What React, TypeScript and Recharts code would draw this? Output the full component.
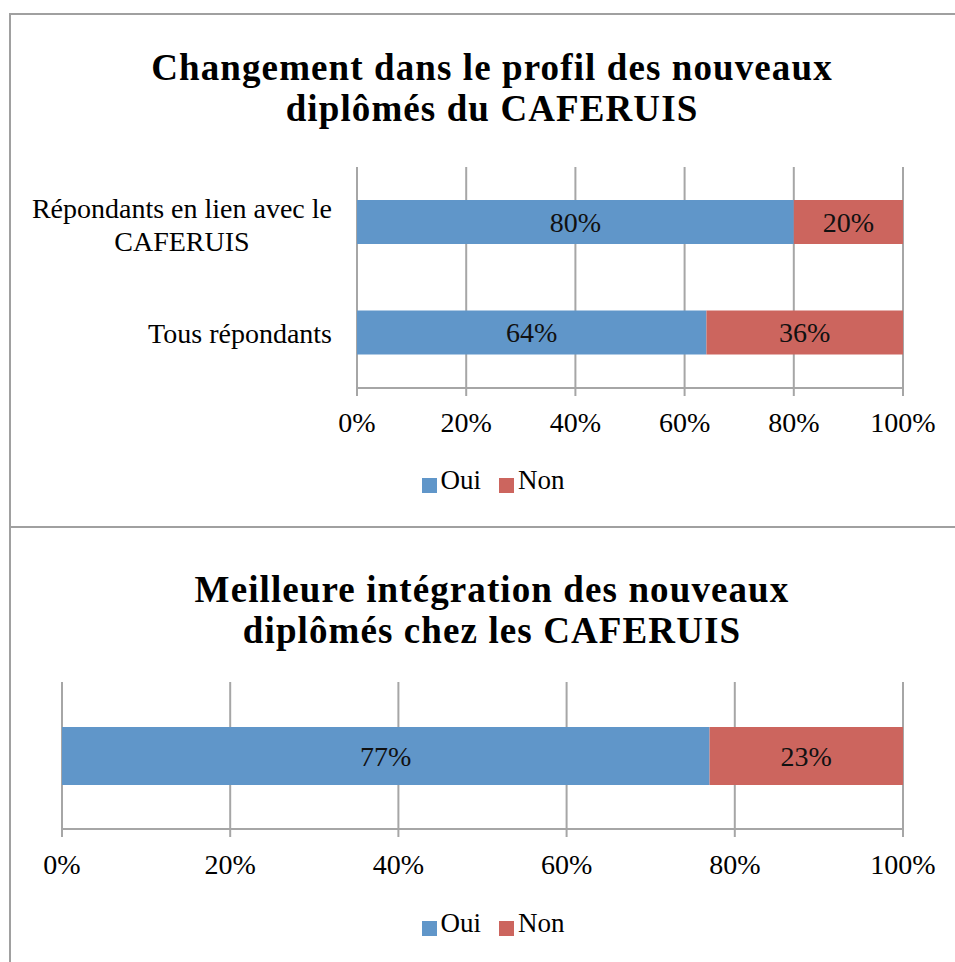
import React from 'react';
import { BarChart, Bar, XAxis, YAxis, CartesianGrid, Legend, LabelList } from 'recharts';

// ---- data ----
const topTitle = ['Changement dans le profil des nouveaux', 'diplômés du CAFERUIS'];
const bottomTitle = ['Meilleure intégration des nouveaux', 'diplômés chez les CAFERUIS'];
const topCategories = ['Répondants en lien avec le\nCAFERUIS', 'Tous répondants'];
const topOui = [80, 64];
const topNon = [20, 36];
const bottomCategories = ['Tous'];
const bottomOui = [77];
const bottomNon = [23];
const seriesNames = ['Oui', 'Non'];
const xTicks = [0, 20, 40, 60, 80, 100];
const frameTicks = [0, 1, 2];

const topData = topCategories.map((c, i) => ({ cat: c, oui: topOui[i], non: topNon[i] }));
const bottomData = bottomCategories.map((c, i) => ({ cat: c, oui: bottomOui[i], non: bottomNon[i] }));

// ---- style ----
const FONT = '"Liberation Serif", "Times New Roman", serif';
const BLUE = '#6096C9';
const RED = '#CC655E';
const GRID = '#a6a6a6';
const CHART_W = 984;

let canvas: HTMLCanvasElement | null = null;
const measure = (text: string, font: string) => {
  if (!canvas) canvas = document.createElement('canvas');
  const ctx = canvas.getContext('2d');
  if (!ctx) return text.length * 12;
  ctx.font = font;
  return ctx.measureText(text).width;
};

const CatTick = (props: any) => {
  const { x, y, payload } = props;
  const lines = String(payload.value).split('\n');
  const widths = lines.map((l) => measure(l, `28px ${FONT}`));
  const maxW = Math.max(...widths);
  const cx = x - maxW / 2;
  const lh = 33;
  const first = (-(lines.length - 1) * lh) / 2 + (lines.length - 1) * 1.5;
  return (
    <text fontFamily={FONT} fontSize={28} fill="#000" textAnchor="middle">
      {lines.map((l, i) => (
        <tspan key={i} x={cx} y={y + first + i * lh} dy="0.38em">
          {l}
        </tspan>
      ))}
    </text>
  );
};

const pct = (v: any) => `${v}%`;
const legendFormatter = (value: any) => (
  <span style={{ color: '#000', fontFamily: FONT, fontSize: 27, marginRight: 8 }}>{value}</span>
);
const legendOrder = (item: any) => seriesNames.indexOf(item.value);

const Title = ({ lines, top }: { lines: string[]; top: number }) => (
  <div
    style={{
      position: 'absolute',
      left: 0,
      top,
      width: CHART_W,
      textAlign: 'center',
      fontFamily: FONT,
      fontWeight: 'bold',
      fontSize: 37,
      letterSpacing: '1.1px',
      lineHeight: '41px',
      color: '#000',
      whiteSpace: 'nowrap',
    }}
  >
    {lines.map((l, i) => (
      <div key={i}>{l}</div>
    ))}
  </div>
);

const xAxisCommon = {
  type: 'number' as const,
  domain: [0, 100],
  ticks: xTicks,
  tickFormatter: pct,
  axisLine: { stroke: GRID, strokeWidth: 2 },
  tickLine: { stroke: GRID, strokeWidth: 2 },
  tickSize: 8,
  tick: { fill: '#000', fontSize: 28, fontFamily: FONT },
};

const labelProps = {
  position: 'center' as const,
  formatter: pct,
  fill: '#111',
  fontSize: 28,
  fontFamily: FONT,
};

export default function App() {
  return (
    <div
      style={{
        position: 'absolute',
        left: 0,
        top: 0,
        width: 955,
        height: 962,
        overflow: 'hidden',
        background: '#fff',
      }}
    >
      {/* panel borders */}
      <div style={{ position: 'absolute', left: 9, top: 13, width: 2, height: 962, background: '#a0a0a0' }} />
      <div style={{ position: 'absolute', left: 9, top: 13, width: 1000, height: 2, background: '#a0a0a0' }} />
      <div style={{ position: 'absolute', left: 9, top: 526, width: 1000, height: 2, background: '#a0a0a0' }} />

      {/* top chart */}
      <div style={{ position: 'absolute', left: 0, top: 14, width: CHART_W, height: 513 }}>
        <BarChart
          width={CHART_W}
          height={513}
          data={topData}
          layout="vertical"
          margin={{ top: 153, right: 81, bottom: 0, left: 0 }}
        >
          <YAxis
            yAxisId="frame"
            type="number"
            domain={[0, 2]}
            ticks={frameTicks}
            width={0}
            tick={false}
            tickSize={7}
            axisLine={{ stroke: GRID, strokeWidth: 2 }}
            tickLine={{ stroke: GRID, strokeWidth: 2 }}
          />
          <YAxis
            yAxisId="cat"
            type="category"
            dataKey="cat"
            width={357}
            axisLine={false}
            tickLine={false}
            tickSize={0}
            tickMargin={25}
            tick={<CatTick />}
          />
          <XAxis {...xAxisCommon} height={109} tickMargin={16} />
          <CartesianGrid yAxisId="cat" horizontal={false} stroke={GRID} strokeWidth={2} />
          <Legend
            verticalAlign="bottom"
            align="center"
            iconType="square"
            iconSize={15}
            itemSorter={legendOrder}
            formatter={legendFormatter}
            wrapperStyle={{ top: 451, left: 10, width: CHART_W, height: 30, lineHeight: '30px' }}
          />
          <Bar yAxisId="cat" dataKey="oui" name={seriesNames[0]} stackId="s" fill={BLUE} barSize={44} isAnimationActive={false}>
            <LabelList dataKey="oui" {...labelProps} />
          </Bar>
          <Bar yAxisId="cat" dataKey="non" name={seriesNames[1]} stackId="s" fill={RED} barSize={44} isAnimationActive={false}>
            <LabelList dataKey="non" {...labelProps} />
          </Bar>
        </BarChart>
      </div>
      <Title lines={topTitle} top={47} />

      {/* bottom chart */}
      <div style={{ position: 'absolute', left: 0, top: 527, width: CHART_W, height: 435 }}>
        <BarChart
          width={CHART_W}
          height={435}
          data={bottomData}
          layout="vertical"
          margin={{ top: 155, right: 81, bottom: 0, left: 62 }}
        >
          <YAxis yAxisId="cat" type="category" dataKey="cat" hide width={0} />
          <XAxis {...xAxisCommon} height={103} tickMargin={17} />
          <CartesianGrid yAxisId="cat" horizontal={false} stroke={GRID} strokeWidth={2} />
          <Legend
            verticalAlign="bottom"
            align="center"
            iconType="square"
            iconSize={15}
            itemSorter={legendOrder}
            formatter={legendFormatter}
            wrapperStyle={{ top: 381, left: 10, width: CHART_W, height: 30, lineHeight: '30px' }}
          />
          <Bar yAxisId="cat" dataKey="oui" name={seriesNames[0]} stackId="s" fill={BLUE} barSize={58} isAnimationActive={false}>
            <LabelList dataKey="oui" {...labelProps} />
          </Bar>
          <Bar yAxisId="cat" dataKey="non" name={seriesNames[1]} stackId="s" fill={RED} barSize={58} isAnimationActive={false}>
            <LabelList dataKey="non" {...labelProps} />
          </Bar>
        </BarChart>
      </div>
      <Title lines={bottomTitle} top={569} />
    </div>
  );
}
